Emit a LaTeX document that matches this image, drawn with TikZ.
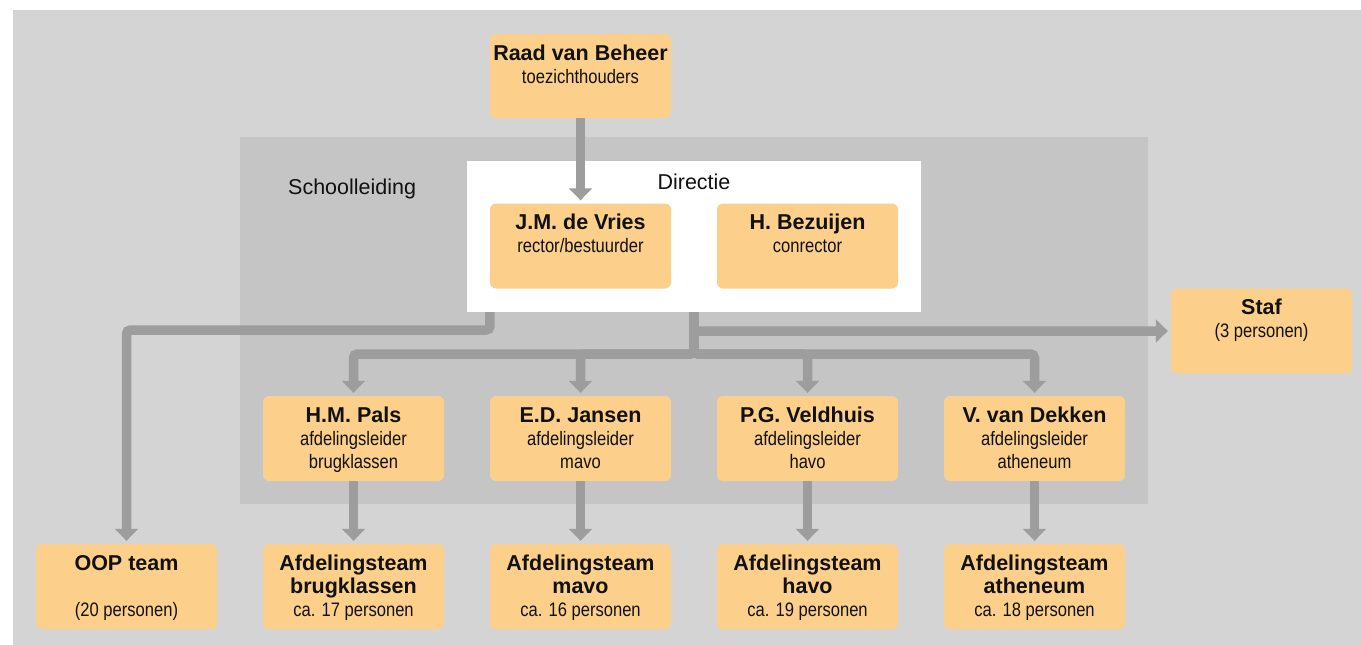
\documentclass[tikz,border=0pt]{standalone}
\usepackage{fontspec}
\setmainfont{Liberation Sans}
\newfontfamily\condfont[FakeStretch=0.85]{Liberation Sans}
\usetikzlibrary{arrows.meta}
\definecolor{bgouter}{HTML}{D4D4D4}
\definecolor{bginner}{HTML}{C5C5C5}
\definecolor{boxfill}{HTML}{FCD08A}
\definecolor{arrowgray}{HTML}{9D9D9D}
\definecolor{txt}{HTML}{111111}
\newcommand\ttl[1]{{\fontsize{21.5}{23.3}\selectfont\bfseries #1}}
\newcommand\subl[1]{{\condfont\fontsize{19.5}{23.3}\selectfont #1}}
\begin{document}
\begin{tikzpicture}[x=1pt,y=-1pt,
  orgbox/.style={fill=boxfill, rounded corners=6pt, minimum width=181pt, minimum height=85pt, inner sep=0pt},
  boxtext/.style={anchor=base, align=center, inner sep=0pt, text=txt, font=\fontsize{18.5}{23.3}\selectfont},
  lbl/.style={inner sep=0pt, text=txt, font=\fontsize{21.5}{24}\selectfont},
  conn/.style={draw=arrowgray, line width=9.5pt, rounded corners=4pt, shorten >=3pt, -{Triangle[width=23pt,length=12pt]}}
]
\useasboundingbox (0,0) rectangle (1361,645);
% backgrounds
\node[fill=bgouter, minimum width=1348pt, minimum height=635pt, inner sep=0pt] (outer) at (687,327.5) {};
\node[fill=bginner, minimum width=908pt, minimum height=367pt, inner sep=0pt] (school) at (694,320.5) {};
\node[fill=white, minimum width=454pt, minimum height=151pt, inner sep=0pt] (dir) at (694,236.5) {};
\node[lbl, anchor=base west] (schoollbl) at (288,194) {Schoolleiding};
\node[lbl, anchor=base] (dirlbl) at (694,189) {Directie};

% boxes
\node[orgbox, minimum height=84pt] (raad) at (580.5,76) {};
\node[orgbox] (jm) at (580.5,246) {};
\node[orgbox] (bez) at (807.5,246) {};
\node[orgbox] (staf) at (1261.5,331) {};
\node[orgbox] (pals) at (353.5,438.5) {};
\node[orgbox] (jansen) at (580.5,438.5) {};
\node[orgbox] (veld) at (807.5,438.5) {};
\node[orgbox] (dekken) at (1034.5,438.5) {};
\node[orgbox] (oop) at (126.5,586.5) {};
\node[orgbox] (tpals) at (353.5,586.5) {};
\node[orgbox] (tjansen) at (580.5,586.5) {};
\node[orgbox] (tveld) at (807.5,586.5) {};
\node[orgbox] (tdekken) at (1034.5,586.5) {};

% texts (base anchor = last line baseline)
\node[boxtext] (raadt) at ([yshift=-49.5pt]raad.north) {\ttl{Raad van Beheer}\\\subl{toezichthouders}};
\node[boxtext] (jmt) at ([yshift=-49.5pt]jm.north) {\ttl{J.M. de Vries}\\\subl{rector/bestuurder}};
\node[boxtext] (bezt) at ([yshift=-49.5pt]bez.north) {\ttl{H. Bezuijen}\\\subl{conrector}};
\node[boxtext] (staft) at ([yshift=-49.5pt]staf.north) {\ttl{Staf}\\\subl{(3 personen)}};
\node[boxtext] (palst) at ([yshift=-73pt]pals.north) {\ttl{H.M. Pals}\\\subl{afdelingsleider}\\\subl{brugklassen}};
\node[boxtext] (jansent) at ([yshift=-73pt]jansen.north) {\ttl{E.D. Jansen}\\\subl{afdelingsleider}\\\subl{mavo}};
\node[boxtext] (veldt) at ([yshift=-73pt]veld.north) {\ttl{P.G. Veldhuis}\\\subl{afdelingsleider}\\\subl{havo}};
\node[boxtext] (dekkent) at ([yshift=-73pt]dekken.north) {\ttl{V. van Dekken}\\\subl{afdelingsleider}\\\subl{atheneum}};
\node[boxtext] (oopt) at ([yshift=-73pt]oop.north) {\ttl{OOP team}\\~\\\subl{(20 personen)}};
\node[boxtext] (tpalst) at ([yshift=-73pt]tpals.north) {\ttl{Afdelingsteam}\\\ttl{brugklassen}\\\subl{ca. 17 personen}};
\node[boxtext] (tjansent) at ([yshift=-73pt]tjansen.north) {\ttl{Afdelingsteam}\\\ttl{mavo}\\\subl{ca. 16 personen}};
\node[boxtext] (tveldt) at ([yshift=-73pt]tveld.north) {\ttl{Afdelingsteam}\\\ttl{havo}\\\subl{ca. 19 personen}};
\node[boxtext] (tdekkent) at ([yshift=-73pt]tdekken.north) {\ttl{Afdelingsteam}\\\ttl{atheneum}\\\subl{ca. 18 personen}};

% connectors
\coordinate (oopsrc) at (dir.south -| jm.west);
\coordinate (oopbend) at (490,330);
\coordinate (hub) at (694,354);
\draw[conn] (raad.south) -- (jm.north);
\draw[conn] (oopsrc) -- (oopbend) -| (oop.north);
\draw[conn] (dir.south) |- (staf.west);
\draw[conn] (dir.south) -- (hub) -| (pals.north);
\draw[conn] (dir.south) -- (hub) -| (jansen.north);
\draw[conn] (dir.south) -- (hub) -| (veld.north);
\draw[conn] (dir.south) -- (hub) -| (dekken.north);
\draw[conn] (pals.south) -- (tpals.north);
\draw[conn] (jansen.south) -- (tjansen.north);
\draw[conn] (veld.south) -- (tveld.north);
\draw[conn] (dekken.south) -- (tdekken.north);
\end{tikzpicture}
\end{document}
